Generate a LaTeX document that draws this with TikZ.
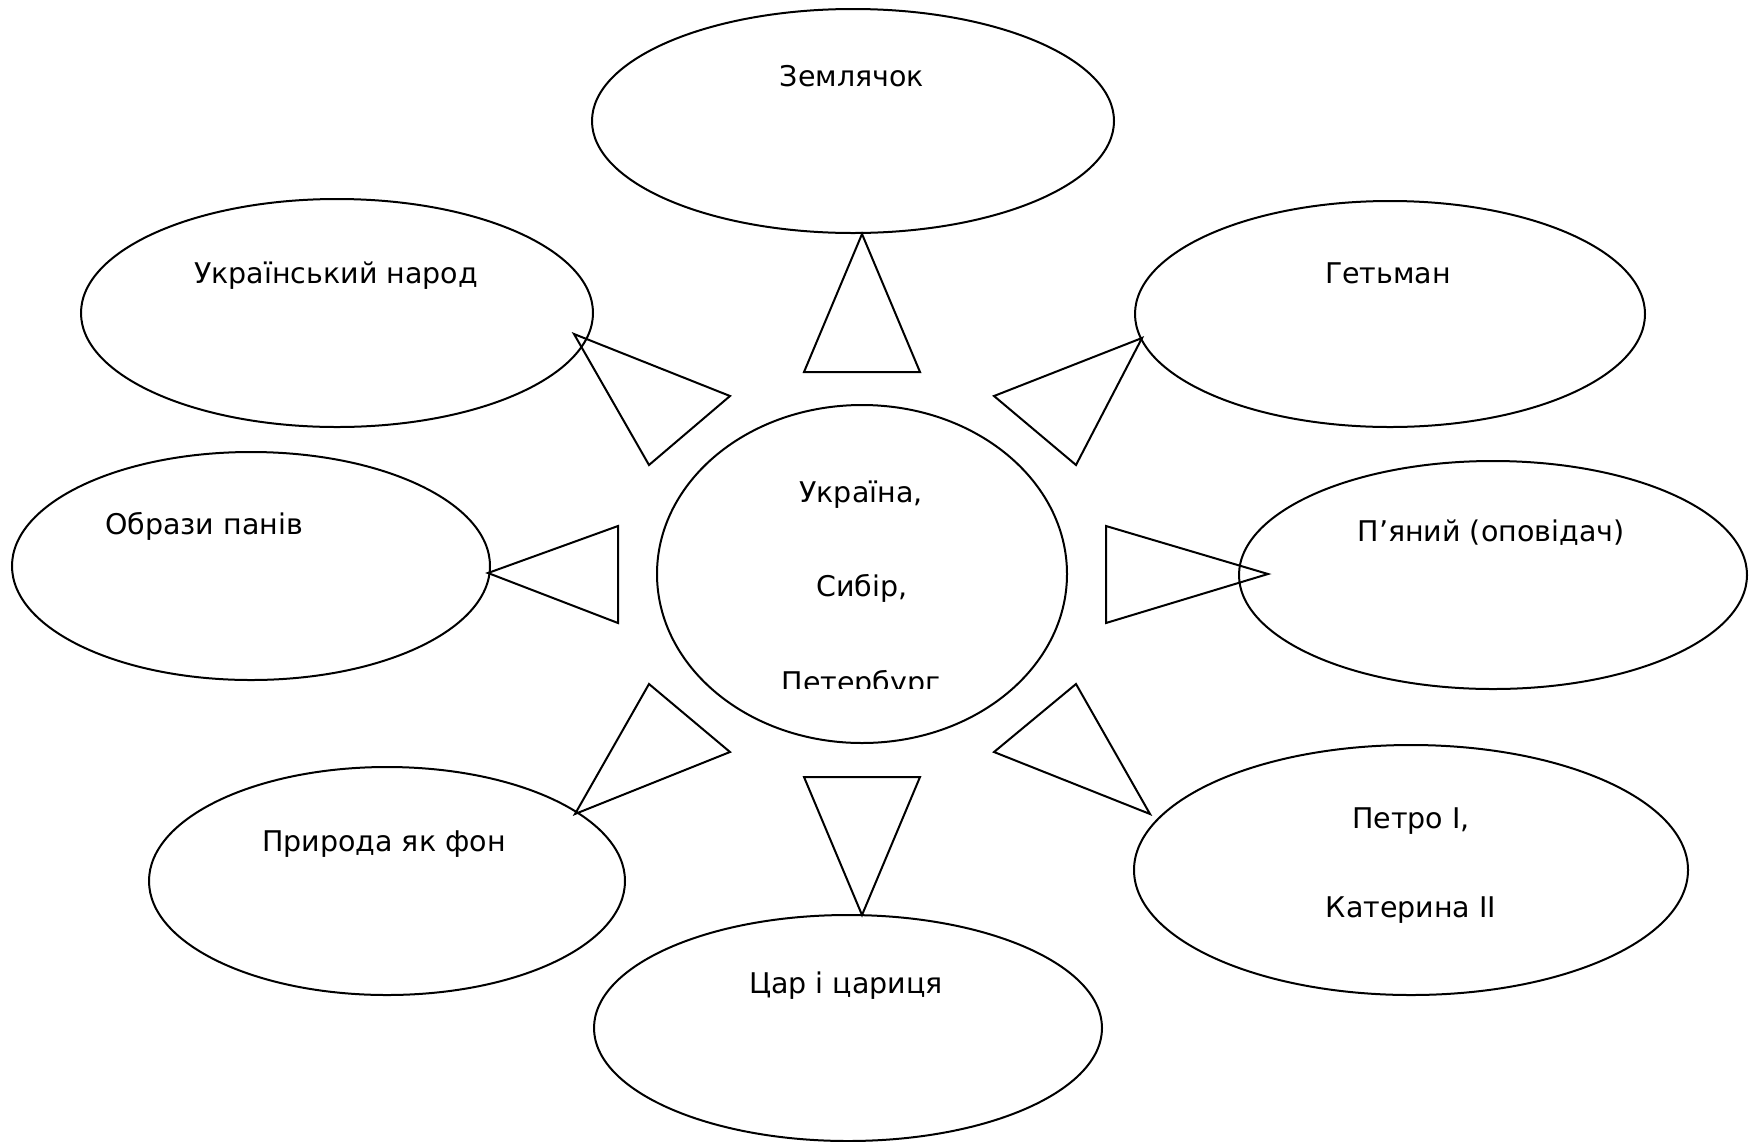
\documentclass[tikz,border=0pt]{standalone}
\usepackage{fontspec}
\setmainfont{DejaVu Sans}
\usetikzlibrary{shapes.geometric}
\tikzset{
  oval/.style={draw, ellipse, line width=2pt, inner sep=0pt},
  lbl/.style={anchor=base, inner sep=0pt, font=\fontsize{28.5}{34}\selectfont},
  tri/.style={draw, line width=2pt, line join=miter},
}
\begin{document}
\begin{tikzpicture}[x=1pt,y=-1pt]
\useasboundingbox (0,0) rectangle (1752,1141);
% ellipses
\node[oval, minimum width=522, minimum height=224] (zem)  at (853,121) {};
\node[oval, minimum width=512, minimum height=228] (ukr)  at (337,313) {};
\node[oval, minimum width=510, minimum height=226] (het)  at (1390,314) {};
\node[oval, minimum width=478, minimum height=228] (obr)  at (251,566) {};
\node[oval, minimum width=508, minimum height=228] (pya)  at (1493,575) {};
\node[oval, minimum width=476, minimum height=228] (pry)  at (387,881) {};
\node[oval, minimum width=554, minimum height=250] (pet)  at (1411,870) {};
\node[oval, minimum width=508, minimum height=226] (tsar) at (848,1028) {};
\node[oval, minimum width=410, minimum height=338] (cen)  at (862,574) {};
% labels
\node[lbl] (tzem) at (852,86) {Землячок};
\node[lbl] (tukr) at (336,283) {Український народ};
\node[lbl] (thet) at (1388,283) {Гетьман};
\node[lbl] (tobr) at (204,534) {Образи панів};
\node[lbl] (tpya) at (1491,541) {П'яний (оповідач)};
\node[lbl] (tpry) at (384,851) {Природа як фон};
\node[lbl] (tpet1) at (1411,828) {Петро I,};
\node[lbl] (tpet2) at (1411,917) {Катерина II};
\node[lbl] (ttsar) at (846,993) {Цар і цариця};
\node[lbl] (tc1) at (861,502) {Україна,};
\node[lbl] (tc2) at (862,596) {Сибір,};
\begin{scope}
  \clip (650,600) rectangle (1080,688);
  \node[lbl] (tc3) at (861,692) {Петербург};
\end{scope}
% triangles
\draw[tri] (804,372) -- (920,372) -- (862,234) -- cycle;
\draw[tri] (574,334) -- (730,396) -- (649,465) -- cycle;
\draw[tri] (1142,338) -- (994,396) -- (1076,465) -- cycle;
\draw[tri] (488,573) -- (618,526) -- (618,623) -- cycle;
\draw[tri] (1268,574) -- (1106,526) -- (1106,623) -- cycle;
\draw[tri] (575,814) -- (649,684) -- (730,752) -- cycle;
\draw[tri] (1150,814) -- (1076,684) -- (994,752) -- cycle;
\draw[tri] (804,777) -- (920,777) -- (862,915) -- cycle;
\end{tikzpicture}
\end{document}
